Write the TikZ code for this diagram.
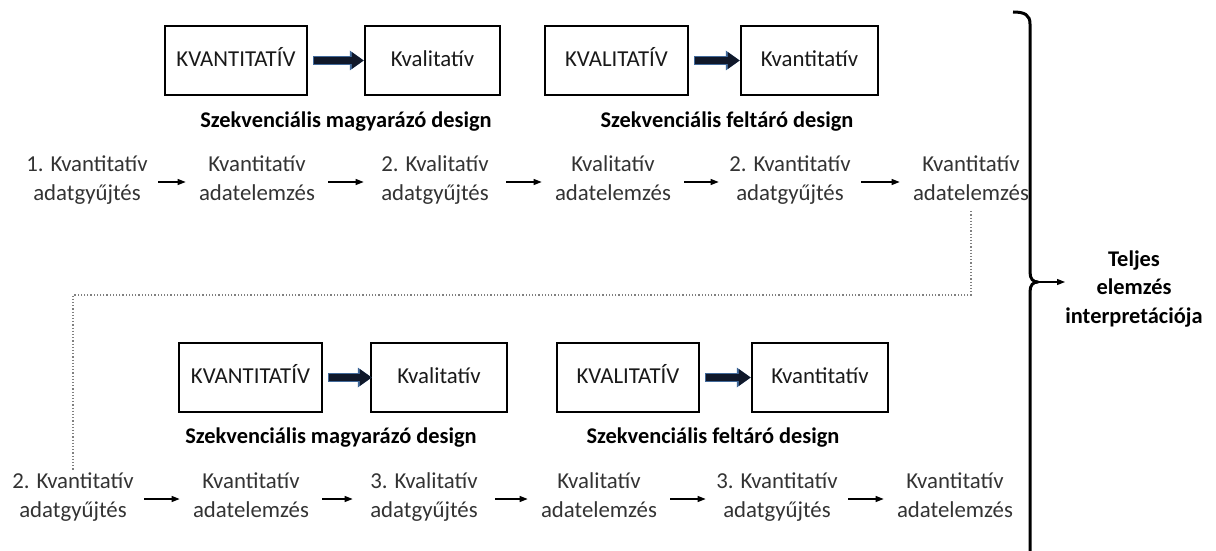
\documentclass[tikz,border=0pt]{standalone}
\usepackage{fontspec}
\setmainfont{Carlito}
\usepackage{tikz}
\usetikzlibrary{arrows.meta}
\definecolor{txt}{HTML}{333333}
\definecolor{navy}{HTML}{10182A}
\definecolor{steel}{HTML}{41699A}

\begin{document}
\begin{tikzpicture}[x=0.5pt, y=-0.5pt,
    modbox/.style={draw, line width=1.25pt, minimum height=34.5pt, inner sep=0pt, text height=8pt, text depth=2.2pt, text=black!90, font=\fontsize{11.4}{14}\selectfont},
    phase/.style={align=center, minimum width=71pt, inner sep=1pt, text=txt, font=\fontsize{11.4}{14.5}\selectfont,
        execute at begin node={\rule{0pt}{14pt}}, execute at end node=\strut},
    designlabel/.style={align=center, font=\fontsize{11.2}{14.3}\selectfont\bfseries},
    flow/.style={-{Triangle[length=4pt,width=3pt]}, line width=0.6pt},
    bigarrow/.style={draw=navy, line width=3.2pt, -{Triangle[length=6pt,width=8pt]}, shorten <=3pt,
        preaction={draw=steel, line width=4.4pt, -{Triangle[length=7pt,width=9.5pt]}, shorten <=2.4pt}}]
    \useasboundingbox (0,0) rectangle (1216,551);

    % Design boxes, upper half
    \node[modbox, minimum width=71pt] (A1) at (236,60.5) {KVANTITATÍV};
    \node[modbox, minimum width=67.5pt] (A2) at (432.5,60.5) {Kvalitatív};
    \node[modbox, minimum width=71.5pt] (A3) at (616.5,60.5) {KVALITATÍV};
    \node[modbox, minimum width=68.5pt] (A4) at (809.5,60.5) {Kvantitatív};
    \node[designlabel] (D1) at (346,122) {Szekvenciális magyarázó design};
    \node[designlabel] (D2) at (727,122) {Szekvenciális feltáró design};
    \draw[bigarrow] (A1) -- (A2);
    \draw[bigarrow] (A3) -- (A4);

    % First sequence of phases
    \node[phase] (Q1) at (87,182) {1. Kvantitatív\\adatgyűjtés};
    \node[phase] (Q2) at (257,182) {Kvantitatív\\adatelemzés};
    \node[phase] (Q3) at (435,182) {2. Kvalitatív\\adatgyűjtés};
    \node[phase] (Q4) at (613,182) {Kvalitatív\\adatelemzés};
    \node[phase] (Q5) at (790,182) {2. Kvantitatív\\adatgyűjtés};
    \node[phase] (Q6) at (971,182) {Kvantitatív\\adatelemzés};
    \draw[flow] (Q1) -- (Q2);
    \draw[flow] (Q2) -- (Q3);
    \draw[flow] (Q3) -- (Q4);
    \draw[flow] (Q4) -- (Q5);
    \draw[flow] (Q5) -- (Q6);

    % Design boxes, lower half
    \node[modbox, minimum width=71.5pt] (B1) at (250.5,377.5) {KVANTITATÍV};
    \node[modbox, minimum width=68pt] (B2) at (439,377.5) {Kvalitatív};
    \node[modbox, minimum width=71pt] (B3) at (628,377.5) {KVALITATÍV};
    \node[modbox, minimum width=68pt] (B4) at (820,377.5) {Kvantitatív};
    \node[designlabel] (D3) at (331,438) {Szekvenciális magyarázó design};
    \node[designlabel] (D4) at (713,438) {Szekvenciális feltáró design};
    \draw[bigarrow, shorten >=-1pt] (B1) -- (B2);
    \draw[bigarrow] (B3) -- (B4);

    % Second sequence of phases
    \node[phase] (P1) at (73,499) {2. Kvantitatív\\adatgyűjtés};
    \node[phase] (P2) at (251,499) {Kvantitatív\\adatelemzés};
    \node[phase] (P3) at (424,499) {3. Kvalitatív\\adatgyűjtés};
    \node[phase] (P4) at (599,499) {Kvalitatív\\adatelemzés};
    \node[phase] (P5) at (777,499) {3. Kvantitatív\\adatgyűjtés};
    \node[phase] (P6) at (955,499) {Kvantitatív\\adatelemzés};
    \draw[flow] (P1) -- (P2);
    \draw[flow] (P2) -- (P3);
    \draw[flow] (P3) -- (P4);
    \draw[flow] (P4) -- (P5);
    \draw[flow] (P5) -- (P6);

    % Link from the first sequence to the second
    \coordinate (bend) at (971,295);
    \draw[densely dotted, gray, line width=0.6pt] (Q6.south) -- (bend) -| (P1.north);

    % Brace and result
    \node[designlabel, inner sep=0pt] (T) at (1134,289) {Teljes\\elemzés\\interpretációja};
    \coordinate (tip) at (1038,282);
    \draw[line width=1.5pt, line join=round] (1013,12) .. controls (1025,12) and (1030,15) .. (1030,24)
        -- (1030,272) .. controls (1030,279) and (1033,282) .. (tip)
        .. controls (1033,282) and (1030,285) .. (1030,292) -- (1030,551);
    \draw[flow] (tip) -- (tip -| T.west);
\end{tikzpicture}
\end{document}
